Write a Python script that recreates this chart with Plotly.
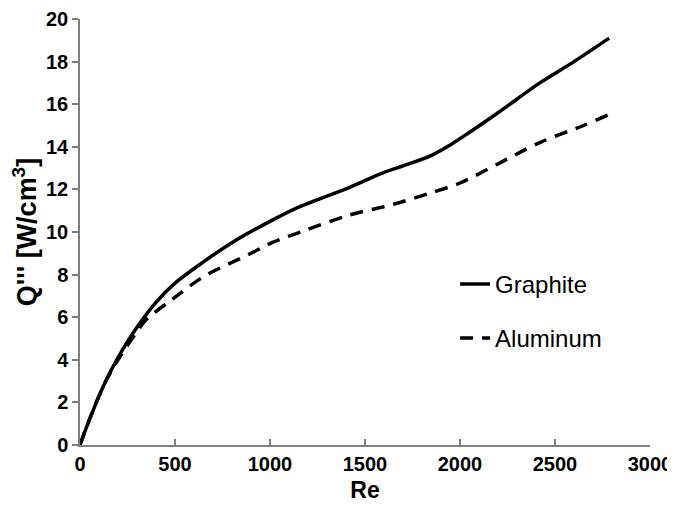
import plotly.graph_objects as go

# Data
re_graphite = [0, 50, 130, 200, 290, 400, 500, 650, 800, 1000, 1160, 1420, 1600, 1700, 1850, 1950, 2020, 2200, 2420, 2600, 2785]
q_graphite = [0, 1.2, 2.9, 4.1, 5.4, 6.7, 7.6, 8.6, 9.5, 10.5, 11.2, 12.1, 12.8, 13.1, 13.6, 14.1, 14.5, 15.6, 17.0, 18.0, 19.1]

re_aluminum = [0, 50, 130, 200, 290, 350, 480, 650, 900, 1010, 1160, 1420, 1650, 1850, 2000, 2200, 2420, 2650, 2780]
q_aluminum = [0, 1.2, 2.9, 4.0, 5.2, 5.9, 6.8, 7.9, 9.0, 9.5, 10.0, 10.8, 11.3, 11.85, 12.3, 13.2, 14.2, 15.0, 15.5]

x_ticks = [0, 500, 1000, 1500, 2000, 2500, 3000]
y_ticks = [0, 2, 4, 6, 8, 10, 12, 14, 16, 18, 20]

FONT = "Liberation Sans"

fig = go.Figure()
fig.add_trace(go.Scatter(x=re_graphite, y=q_graphite, mode="lines", name="Graphite",
                         legendgroup="g",
                         line=dict(color="black", width=3.5, shape="spline", smoothing=0.9)))
fig.add_trace(go.Scatter(x=re_aluminum, y=q_aluminum, mode="lines", name="Aluminum",
                         legendgroup="a",
                         line=dict(color="black", width=3.5, dash="13px,9px", shape="spline", smoothing=0.9)))

axis_common = dict(showgrid=False, zeroline=False, showline=True, linecolor="#7f7f7f",
                   linewidth=1.5, ticklen=6, tickwidth=1.5, tickcolor="#7f7f7f",
                   automargin=False,
                   tickfont=dict(family=FONT, size=20, color="black", weight="bold"))

fig.update_xaxes(range=[0, 3000], tickvals=x_ticks, ticks="inside",
                 title=dict(text="<b>Re</b>", font=dict(family=FONT, size=23, color="black"), standoff=8),
                 **axis_common)
fig.update_yaxes(range=[0, 20], tickvals=y_ticks, ticks="outside",
                 title=dict(text="<b>Q''' [W/cm<sup>3</sup>]</b>", font=dict(family=FONT, size=27, color="black"), standoff=4),
                 **axis_common)

# The page body adds an 8px offset, so the figure is sized to fit the window
fig.update_layout(
    width=667, height=498,
    margin=dict(l=72, r=25, t=11, b=61),
    plot_bgcolor="white", paper_bgcolor="white",
    showlegend=True,
    legend=dict(x=0.658, y=0.43, xanchor="left", yanchor="top",
                font=dict(family=FONT, size=24, color="black"),
                tracegroupgap=20, traceorder="grouped",
                bgcolor="rgba(0,0,0,0)"),
)

fig.write_html("out.html")
